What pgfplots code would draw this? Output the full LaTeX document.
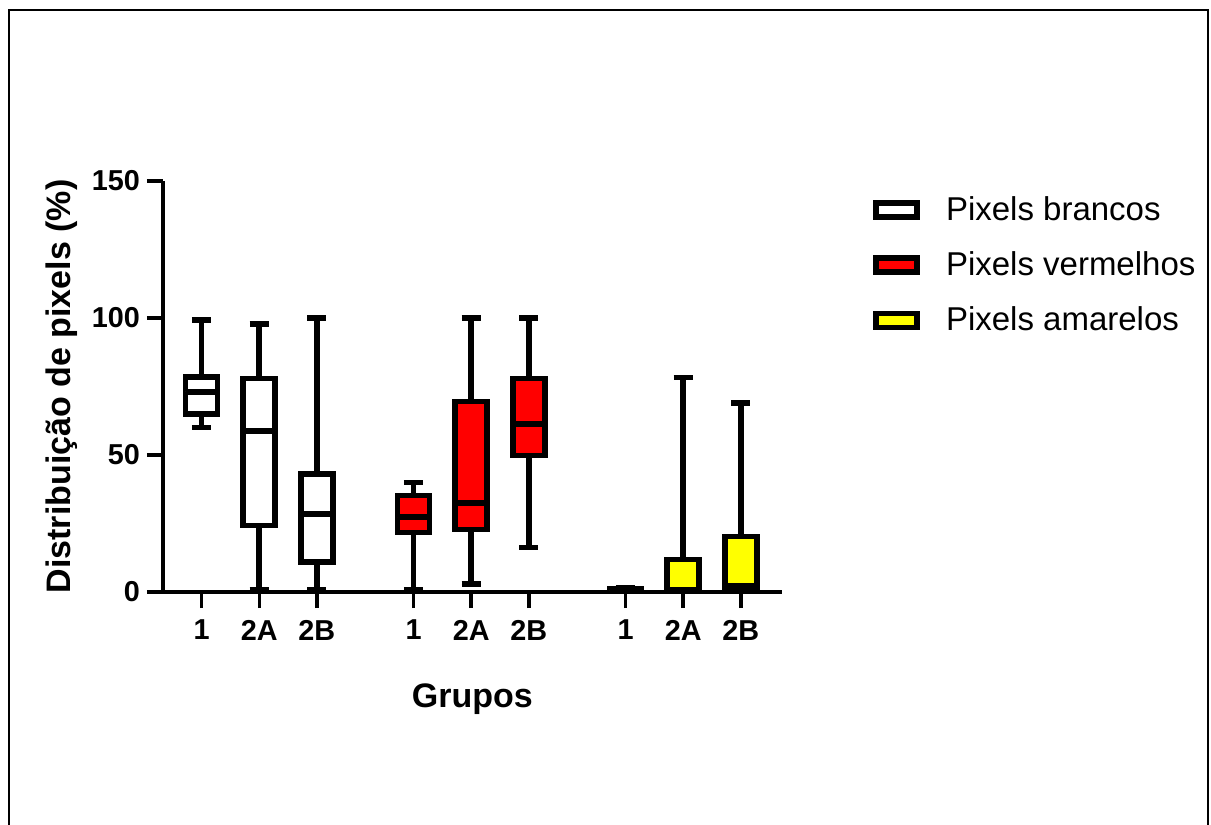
\documentclass[border=0pt]{standalone}
\usepackage{fontspec}
\setmainfont{Liberation Sans}
\usepackage{pgfplots}
\pgfplotsset{compat=1.18}
\usepgfplotslibrary{statistics}
\definecolor{pred}{HTML}{FF0000}
\definecolor{pyel}{HTML}{FFFF00}
\pgfplotsset{
  bx/.style={forget plot, draw=black, solid, mark=none, line width=2.75pt,
    boxplot/draw direction=y, boxplot/box extend=0.555, boxplot/whisker extend=0.335},
}
\begin{document}
\begin{tikzpicture}
\begin{axis}[
  scale only axis,
  width=309.35pt, height=205.5pt,
  xmin=-0.67, xmax=10.07,
  ymin=0, ymax=150,
  axis lines=left,
  axis line style={-, line width=1.7pt},
  every tick/.style={black, line width=1.7pt},
  tick align=outside,
  major tick length=8pt,
  xtick={0,1,2,3.68,4.68,5.68,7.36,8.36,9.36},
  xticklabels={1,2A,2B,1,2A,2B,1,2A,2B},
  ytick={0,50,100,150},
  /pgf/number format/assume math mode=true,
  ticklabel style={font=\fontsize{14.4}{16}\selectfont\bfseries},
  xticklabel style={yshift=-2.5pt},
  xlabel={Grupos},
  ylabel={Distribuição de pixels (\%)},
  label style={font=\fontsize{17}{19}\selectfont\bfseries},
  xlabel style={at={(axis description cs:0.5,-0.26)}, anchor=center},
  ylabel style={at={(axis description cs:-0.163,0.5)}, anchor=center},
  legend style={at={(axis description cs:1.1379,0.9735)}, anchor=north west,
    draw=none, fill=none, font=\fontsize{16.5}{19}\selectfont,
    row sep=14.2pt, column sep=13pt, nodes={inner sep=0pt}},
  legend cell align=left,
  legend image code/.code={\draw[line width=2.8pt,#1] (0pt,-3.5pt) rectangle (20.5pt,3.5pt);},
]
% white
\addplot+[bx, fill=white, boxplot prepared={draw position=0,
  lower whisker=60.1, lower quartile=65.0, median=73.0, upper quartile=78.4, upper whisker=99.3}] coordinates {};
\addplot+[bx, fill=white, boxplot prepared={draw position=1,
  lower whisker=0.8, lower quartile=24.3, median=58.8, upper quartile=77.9, upper whisker=97.8}] coordinates {};
\addplot+[bx, fill=white, boxplot prepared={draw position=2,
  lower whisker=0.8, lower quartile=10.9, median=28.5, upper quartile=43.1, upper whisker=100}] coordinates {};
% red
\addplot+[bx, fill=pred, boxplot prepared={draw position=3.68,
  lower whisker=0.8, lower quartile=21.8, median=27.3, upper quartile=35.2, upper whisker=39.9}] coordinates {};
\addplot+[bx, fill=pred, boxplot prepared={draw position=4.68,
  lower whisker=2.9, lower quartile=22.9, median=32.4, upper quartile=69.5, upper whisker=100}] coordinates {};
\addplot+[bx, fill=pred, boxplot prepared={draw position=5.68,
  lower whisker=16.3, lower quartile=49.9, median=61.3, upper quartile=78.0, upper whisker=100}] coordinates {};
% yellow
\addplot+[bx, fill=pyel, boxplot prepared={draw position=7.36,
  lower whisker=0, lower quartile=0.3, median=0.6, upper quartile=1.2, upper whisker=1.5}] coordinates {};
\addplot+[bx, fill=pyel, boxplot prepared={draw position=8.36,
  lower whisker=0, lower quartile=0.8, median=0.9, upper quartile=11.8, upper whisker=78.3}] coordinates {};
\addplot+[bx, fill=pyel, boxplot prepared={draw position=9.36,
  lower whisker=0, lower quartile=0.6, median=2.2, upper quartile=20.2, upper whisker=68.9}] coordinates {};
\addlegendimage{draw=black, fill=white}
\addlegendentry{Pixels brancos}
\addlegendimage{draw=black, fill=pred}
\addlegendentry{Pixels vermelhos}
\addlegendimage{draw=black, fill=pyel}
\addlegendentry{Pixels amarelos}
\end{axis}
\draw[line width=1.4pt] (-77pt,-120pt) -- (-77pt,291pt) -- (522.5pt,291pt) -- (522.5pt,-120pt);
\pgfresetboundingbox
\useasboundingbox (-81.5pt,-116.5pt) rectangle (524pt,296pt);
\end{tikzpicture}
\end{document}
